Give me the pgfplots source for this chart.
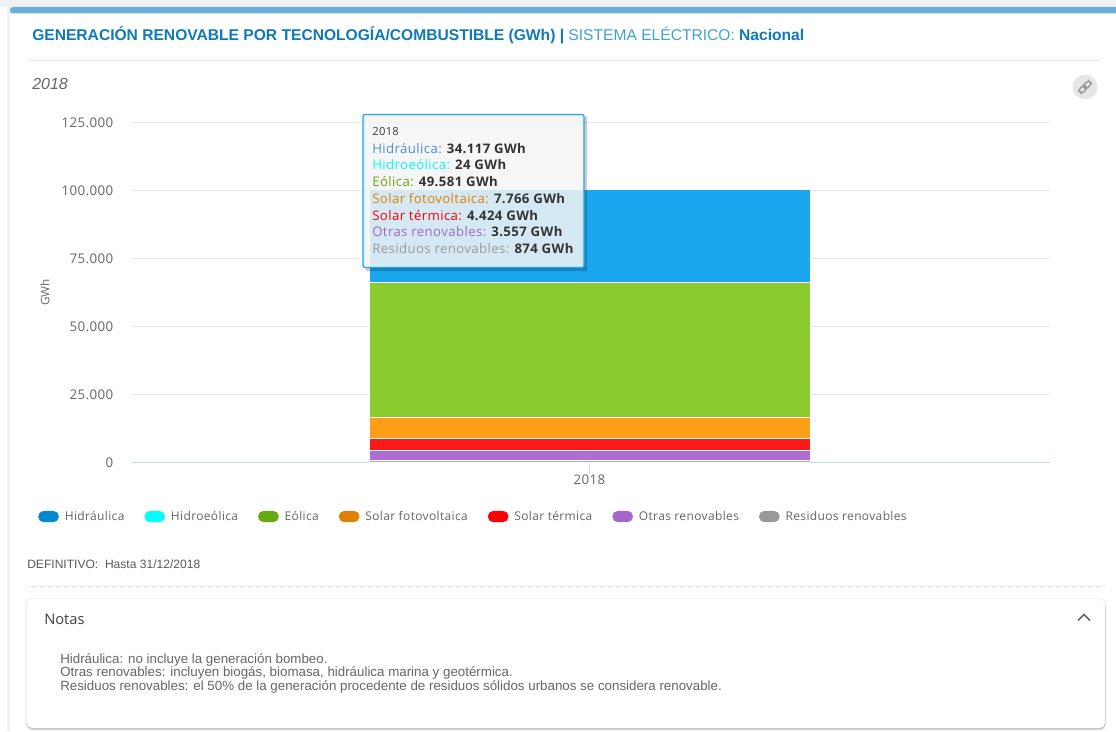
\documentclass[border=0pt]{standalone}
\usepackage{pgfplots}
\pgfplotsset{compat=1.18}
\usepackage{fontspec}
\setmainfont{Liberation Sans}
\newfontfamily\chartfont[LetterSpace=3]{Open Sans}
\newfontfamily\notefont{Open Sans}

\definecolor{panelgrey}{HTML}{F0F1F3}
\definecolor{topbar}{HTML}{6BB0DA}
\definecolor{titleblue}{HTML}{0F7AB5}
\definecolor{titlelight}{HTML}{3FA2D2}
\definecolor{dots}{HTML}{D4D4D4}
\definecolor{gridc}{HTML}{E6E6E6}
\definecolor{axisc}{HTML}{CCD6EB}
\definecolor{labelc}{HTML}{666666}
% bar fills
\definecolor{barhid}{HTML}{1AA7EE}
\definecolor{bareol}{HTML}{8ACB2E}
\definecolor{barfv}{HTML}{FF9E18}
\definecolor{barter}{HTML}{FF1A1A}
\definecolor{barotr}{HTML}{AE6ED4}
\definecolor{barres}{HTML}{B0B0B0}
\definecolor{barheo}{HTML}{33FFFF}
% legend swatches and tooltip names
\definecolor{leghid}{HTML}{0088D0}
\definecolor{legheo}{HTML}{00FFFF}
\definecolor{legeol}{HTML}{66AA11}
\definecolor{legfv}{HTML}{E08000}
\definecolor{legter}{HTML}{FF0000}
\definecolor{legotr}{HTML}{A366CC}
\definecolor{legres}{HTML}{999999}
\definecolor{tiphid}{HTML}{4A90D0}
\definecolor{tipval}{HTML}{333333}

\pgfplotstableread{
x hid heo eol fv ter otr res
0 34117 24 49581 7766 4424 3557 874
}\gendata

\pgfplotsset{
  pill/.style={legend image code/.code={
    \fill[#1,rounded corners=3.9pt] (0pt,-1pt) rectangle (15pt,7pt);}},
  stackbar/.style={fill=#1,draw=white,line width=0.75pt,forget plot},
}

\begin{document}
\begin{tikzpicture}[x=0.75pt,y=-0.75pt]
\path[use as bounding box] (0,0) rectangle (1116,731);
\fill[white] (0,0) rectangle (1116,731);
% page gutter and header band
\fill[panelgrey] (0,0) rectangle (1116,7);
\fill[panelgrey] (7,7) rectangle (10,731);
\fill[topbar,rounded corners=2pt] (10,7) rectangle (1122,13.5);
% title row
\node[anchor=base west,inner sep=0,font=\fontsize{11.7pt}{13pt}\selectfont] at (32,41)
  {\textcolor{titleblue}{\textbf{GENERACIÓN RENOVABLE POR TECNOLOGÍA/COMBUSTIBLE (GWh) |}} \textcolor{titlelight}{SISTEMA ELÉCTRICO:} \textcolor{titleblue}{\textbf{Nacional}}};
\draw[dots,line width=0.75pt,dash pattern=on 1pt off 1pt] (28,60.5) -- (1100,60.5);
\node[anchor=base west,inner sep=0,text=labelc,font=\fontsize{12pt}{13pt}\selectfont\itshape] at (32,89.5) {2018};
% link button
\fill[gridc] (1085,87) circle (12.5);
\draw[labelc!70,line width=1pt,rounded corners=2pt,rotate around={45:(1085,87)}] (1078,84.5) rectangle (1086,89.5);
\draw[labelc!70,line width=1pt,rounded corners=2pt,rotate around={45:(1085,87)}] (1084,84.5) rectangle (1092,89.5);

\begin{axis}[
  at={(99pt,-347pt)},anchor=south west,
  scale only axis,width=688.5pt,height=255.3pt,
  ybar stacked,bar width=330.75pt,
  xmin=-457.5,xmax=460.5,ymin=0,ymax=125000,
  scaled y ticks=false,
  axis line style={draw=none},
  axis x line*=bottom,axis y line*=left,
  ytick={0,25000,50000,75000,100000,125000},
  yticklabels={0,25.000,50.000,75.000,100.000,125.000},
  xtick={0},xticklabels={2018},
  ymajorgrids,grid style={gridc,line width=0.75pt},
  major x tick style={axisc,line width=0.75pt},
  major y tick style={draw=none},
  tick align=outside,major tick length=7.5pt,
  tick label style={text=labelc,font=\chartfont\fontsize{10pt}{11pt}\selectfont},
  yticklabel style={xshift=-3pt},
  xticklabel style={yshift=2pt},
  ylabel={GWh},
  every axis y label/.style={at={(rel axis cs:-0.0948,0.5)},rotate=90,anchor=center,
    text=labelc,font=\notefont\fontsize{8.8pt}{10pt}\selectfont},
  legend style={draw=none,fill=none,at={(-0.1024,-0.141)},anchor=north west,inner sep=0pt,
    font=\chartfont\fontsize{9pt}{10pt}\selectfont,text=labelc,
    legend columns=-1,
    /tikz/every odd column/.style={column sep=4.5pt},
    /tikz/every even column/.style={column sep=15pt},
    nodes={inner sep=0pt,anchor=base west}},
  legend cell align=left,
  clip=false,
]
\addplot[stackbar=barres] table[x=x,y=res]{\gendata};
\addplot[stackbar=barotr] table[x=x,y=otr]{\gendata};
\addplot[stackbar=barter] table[x=x,y=ter]{\gendata};
\addplot[stackbar=barfv] table[x=x,y=fv]{\gendata};
\addplot[stackbar=bareol] table[x=x,y=eol]{\gendata};
\addplot[stackbar=barheo] table[x=x,y=heo]{\gendata};
\addplot[stackbar=barhid] table[x=x,y=hid]{\gendata};
\addlegendimage{pill=leghid}\addlegendentry{Hidráulica}
\addlegendimage{pill=legheo}\addlegendentry{Hidroeólica}
\addlegendimage{pill=legeol}\addlegendentry{Eólica}
\addlegendimage{pill=legfv}\addlegendentry{Solar fotovoltaica}
\addlegendimage{pill=legter}\addlegendentry{Solar térmica}
\addlegendimage{pill=legotr}\addlegendentry{Otras renovables}
\addlegendimage{pill=legres}\addlegendentry{Residuos renovables}
\end{axis}
\draw[axisc,line width=0.75pt] (132,462.7) -- (369,462.7) (810,462.7) -- (1050,462.7);

% tooltip with a drop shadow on its lower right
\fill[black,opacity=0.2,even odd rule] (365.5,117) rectangle (587,271) (363,114.5) rectangle (584,267.5);
\filldraw[draw=barhid,line width=0.9pt,fill=white!96!black,fill opacity=0.85,rounded corners=1.5pt] (363,114.5) rectangle (584,267.5);
\begin{scope}[every node/.style={anchor=base west,inner sep=0,text=tipval,font=\chartfont\fontsize{9.9pt}{11pt}\selectfont}]
\node[font=\chartfont\fontsize{8.4pt}{10pt}\selectfont,text=black!75] at (372,136) {2018};
\node at (372,153) {\textcolor{tiphid}{Hidráulica:} \textbf{34.117 GWh}};
\node at (372,170) {\textcolor{legheo}{Hidroeólica:} \textbf{24 GWh}};
\node at (372,186.5) {\textcolor{legeol}{Eólica:} \textbf{49.581 GWh}};
\node at (372,203) {\textcolor{legfv}{Solar fotovoltaica:} \textbf{7.766 GWh}};
\node at (372,220) {\textcolor{legter}{Solar térmica:} \textbf{4.424 GWh}};
\node at (372,236.5) {\textcolor{legotr}{Otras renovables:} \textbf{3.557 GWh}};
\node at (372,253.5) {\textcolor{legres}{Residuos renovables:} \textbf{874 GWh}};
\end{scope}

% status line and notes
\node[anchor=base west,inner sep=0,text=black!65,font=\fontsize{9.05pt}{10pt}\selectfont] at (27,568) {DEFINITIVO:\ \ Hasta 31/12/2018};
\draw[dots,line width=0.75pt,dash pattern=on 1pt off 1pt] (27,586.5) -- (1105,586.5);
% soft panel shadow
\fill[black,opacity=0.025,rounded corners=4pt] (24.5,597.5) rectangle (1107,731);
\fill[black,opacity=0.04,rounded corners=4pt] (25.5,598.5) rectangle (1106,730);
\fill[black,opacity=0.18,rounded corners=4pt] (27,601) rectangle (1105.5,729.5);
\fill[white,rounded corners=4pt] (27,599) rectangle (1105,728);
\node[anchor=base west,inner sep=0,text=black!75,font=\notefont\fontsize{11pt}{12pt}\selectfont] at (44,624) {Notas};
\draw[labelc,line width=1.2pt] (1078,620.5) -- (1084,614.5) -- (1090,620.5);
\node[anchor=north west,inner sep=0,text=black!60,align=left,font=\fontsize{10pt}{10pt}\selectfont] at (60,653.5)
 {Hidráulica: no incluye la generación bombeo.\\
  Otras renovables: incluyen biogás, biomasa, hidráulica marina y geotérmica.\\
  Residuos renovables: el 50\% de la generación procedente de residuos sólidos urbanos se considera renovable.};
\end{tikzpicture}
\end{document}
